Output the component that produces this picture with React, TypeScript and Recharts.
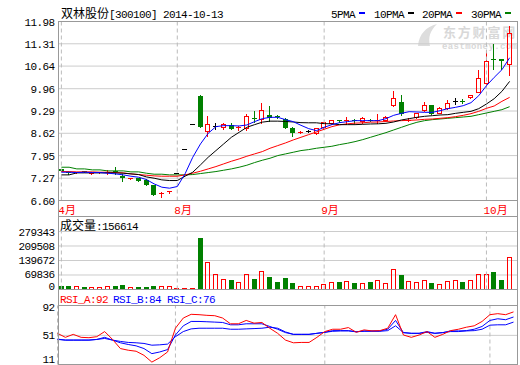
import React from 'react';
import { ComposedChart, Bar, Line, XAxis, YAxis, CartesianGrid, ReferenceLine } from 'recharts';

// 双林股份 [300100] daily bars
const opens = [7.54, 7.44, 7.42, 7.46, 7.40, 7.42, 7.43, 7.48, 7.35, 7.24, 7.27, 7.23, 7.08, 6.81, 6.83, 7.40, 8.14, 8.88, 9.74, 8.68, 8.83, 8.80, 8.88, 8.76, 8.76, 9.06, 9.03, 9.16, 9.12, 9.05, 8.77, 8.63, 8.67, 8.61, 8.79, 8.91, 8.99, 8.99, 9.01, 8.96, 9.01, 9.00, 9.01, 9.47, 9.56, 9.00, 9.09, 9.32, 9.46, 9.22, 9.36, 9.58, 9.59, 9.69, 9.86, 10.11, 10.84, 10.86, 10.68];
const closes = [7.48, 7.42, 7.43, 7.44, 7.42, 7.43, 7.44, 7.47, 7.27, 7.25, 7.20, 7.08, 6.78, 6.82, 6.86, 7.40, 8.14, 8.88, 8.80, 8.88, 8.83, 8.88, 8.76, 8.78, 9.13, 9.05, 9.31, 9.09, 9.10, 8.78, 8.62, 8.64, 8.67, 8.75, 8.93, 8.99, 8.98, 9.00, 9.00, 9.05, 9.00, 9.01, 9.10, 9.68, 9.20, 9.01, 9.20, 9.46, 9.20, 9.36, 9.51, 9.58, 9.58, 9.76, 10.26, 10.79, 10.82, 10.78, 11.63];
const highs = [7.56, 7.47, 7.46, 7.48, 7.44, 7.46, 7.53, 7.60, 7.40, 7.28, 7.28, 7.26, 7.08, 6.87, 6.90, 7.40, 8.14, 8.88, 9.77, 9.13, 8.94, 8.94, 8.94, 8.85, 9.21, 9.28, 9.54, 9.44, 9.16, 9.07, 8.82, 8.68, 8.72, 8.78, 8.95, 9.02, 9.02, 9.12, 9.06, 9.10, 9.05, 9.20, 9.15, 9.88, 9.76, 9.08, 9.24, 9.56, 9.48, 9.40, 9.63, 9.69, 9.66, 9.78, 10.53, 11.11, 11.31, 10.86, 11.83];
const lows = [7.46, 7.38, 7.40, 7.42, 7.38, 7.39, 7.37, 7.37, 7.15, 7.22, 7.15, 7.03, 6.75, 6.67, 6.80, 7.40, 8.14, 8.88, 8.78, 8.50, 8.73, 8.73, 8.72, 8.68, 8.70, 8.94, 8.91, 8.96, 9.06, 8.75, 8.50, 8.60, 8.62, 8.58, 8.75, 8.86, 8.93, 8.88, 8.91, 8.91, 8.95, 8.90, 8.98, 9.40, 9.15, 8.96, 9.06, 9.25, 9.16, 9.20, 9.33, 9.46, 9.50, 9.66, 9.83, 10.06, 10.53, 10.51, 10.34];
const volumes = [14600, 14600, 14600, 9750, 9750, 13000, 14600, 14600, 19500, 9750, 9750, 13000, 14600, 14600, 14600, 4900, 4900, 4900, 250000, 133000, 73000, 48800, 43900, 35700, 76400, 48800, 87700, 60100, 35700, 55200, 30900, 17900, 17900, 17900, 24400, 34100, 34100, 39000, 30900, 29200, 34100, 43900, 29200, 97500, 68200, 39000, 34100, 43900, 30900, 24400, 39000, 43900, 35700, 43900, 73100, 73100, 84500, 45500, 156614];

const ma5 = [7.45, 7.45, 7.44, 7.45, 7.44, 7.44, 7.42, 7.40, 7.37, 7.33, 7.30, 7.23, 7.10, 7.00, 6.97, 7.02, 7.40, 7.90, 8.30, 8.62, 8.82, 8.85, 8.85, 8.84, 8.87, 8.97, 9.06, 9.10, 9.10, 9.03, 8.97, 8.86, 8.76, 8.70, 8.80, 8.88, 8.94, 8.97, 9.00, 9.00, 9.00, 9.00, 9.06, 9.16, 9.22, 9.27, 9.26, 9.25, 9.25, 9.30, 9.36, 9.40, 9.45, 9.54, 9.75, 10.05, 10.30, 10.53, 10.89];
const ma10 = [7.37, 7.37, 7.43, 7.43, 7.43, 7.43, 7.43, 7.43, 7.42, 7.40, 7.38, 7.31, 7.27, 7.22, 7.20, 7.20, 7.33, 7.45, 7.67, 7.90, 8.10, 8.30, 8.50, 8.65, 8.80, 8.88, 8.955, 8.985, 8.985, 8.975, 8.96, 8.94, 8.935, 8.935, 8.91, 8.905, 8.88, 8.88, 8.88, 8.89, 8.90, 8.905, 8.92, 8.96, 9.02, 9.06, 9.10, 9.13, 9.15, 9.17, 9.18, 9.22, 9.25, 9.28, 9.36, 9.50, 9.66, 9.88, 10.18];
const ma20 = [7.47, 7.47, 7.46, 7.46, 7.46, 7.45, 7.45, 7.44, 7.43, 7.40, 7.38, 7.36, 7.34, 7.33, 7.33, 7.33, 7.37, 7.42, 7.48, 7.55, 7.62, 7.70, 7.78, 7.85, 7.93, 8.00, 8.07, 8.17, 8.25, 8.33, 8.42, 8.50, 8.58, 8.66, 8.74, 8.82, 8.875, 8.905, 8.925, 8.935, 8.955, 8.96, 8.975, 8.99, 9.00, 9.01, 9.02, 9.04, 9.05, 9.07, 9.09, 9.12, 9.16, 9.21, 9.28, 9.37, 9.44, 9.58, 9.70];
const ma30 = [7.60, 7.60, 7.55, 7.55, 7.52, 7.52, 7.49, 7.49, 7.49, 7.46, 7.46, 7.42, 7.39, 7.39, 7.37, 7.37, 7.37, 7.38, 7.41, 7.44, 7.47, 7.51, 7.55, 7.60, 7.66, 7.74, 7.81, 7.87, 7.95, 8.00, 8.05, 8.10, 8.13, 8.17, 8.20, 8.23, 8.28, 8.32, 8.37, 8.43, 8.50, 8.57, 8.64, 8.72, 8.80, 8.88, 8.95, 9.00, 9.03, 9.05, 9.07, 9.09, 9.11, 9.13, 9.18, 9.23, 9.28, 9.33, 9.42];

const rsiA = [53.8, 48.3, 52.4, 48.3, 47.8, 49.2, 56.2, 45.4, 32.9, 30.6, 29.2, 23.6, 14.3, 20.3, 28.2, 60.8, 74.8, 79.9, 79.4, 78.5, 78.0, 74.8, 66.9, 66.9, 71.5, 67.8, 68.7, 60.8, 53.8, 44.5, 40.8, 41.3, 41.3, 48.3, 56.2, 59.4, 59.4, 61.7, 55.2, 58.5, 57.1, 57.5, 60.8, 79.4, 51.5, 48.3, 51.5, 56.2, 48.3, 52.4, 57.5, 59.4, 62.2, 64.1, 70.1, 79.4, 80.8, 79.4, 83.2];
const rsiB = [45.9, 44.5, 44.5, 44.5, 44.5, 45.4, 48.3, 44.5, 40.8, 38.5, 36.6, 32.9, 25.9, 28.2, 31.5, 51.5, 64.1, 70.1, 70.1, 69.7, 69.2, 68.7, 65.5, 65.5, 66.9, 66.9, 66.9, 63.2, 59.4, 54.8, 52.4, 52.4, 52.4, 53.8, 55.2, 57.5, 57.5, 57.5, 55.7, 57.1, 57.1, 57.1, 59.4, 71.5, 54.8, 53.8, 53.8, 56.2, 53.8, 54.8, 57.1, 57.1, 57.5, 59.4, 63.2, 71.5, 73.8, 72.5, 76.2];
const rsiC = [45.4, 44.5, 44.5, 44.5, 44.5, 45.4, 46.8, 44.5, 42.7, 41.3, 40.8, 39.9, 37.5, 38.0, 39.0, 49.2, 56.2, 59.9, 60.8, 60.8, 60.8, 60.8, 59.4, 59.4, 59.9, 60.3, 60.8, 62.2, 60.8, 55.7, 52.4, 52.4, 52.4, 53.8, 55.2, 56.6, 57.1, 57.1, 56.2, 56.6, 56.6, 56.6, 57.5, 64.1, 54.8, 53.8, 53.8, 55.2, 53.8, 54.8, 56.2, 56.2, 57.1, 57.5, 59.4, 65.0, 65.5, 65.5, 69.2];
const rsiLabels = ['RSI_A:92', 'RSI_B:84', 'RSI_C:76'];

const monthIdx = [0, 15, 34, 55];
const monthNames = ['4月', '8月', '9月', '10月'];
const priceTicks = [6.6, 7.27, 7.95, 8.62, 9.29, 9.96, 10.64, 11.31, 11.98];
const volTicks = [0, 69836, 139672, 209508, 279343];
const rsiTicks = [11, 51, 92];
const maNames = ['5PMA', '10PMA', '20PMA', '30PMA'];

const RED = '#ff0000';
const GREEN = '#008000';
const BLUE = '#0000ff';
const BLACK = '#000000';
const maColors = [BLUE, BLACK, RED, GREEN];
const GRID = '#cccccc';
const FRAME = '#999999';
const DASH = '#bbbbbb';
const MONO = "'Liberation Mono', 'DejaVu Sans Mono', monospace";
const CJK = "'Noto Sans CJK SC', sans-serif";

const rows = opens.map((open, i) => ({
  i,
  open,
  close: closes[i],
  high: highs[i],
  low: lows[i],
  range: [lows[i], highs[i]],
  vol: volumes[i],
  ma5: ma5[i],
  ma10: ma10[i],
  ma20: ma20[i],
  ma30: ma30[i],
  rsiA: rsiA[i],
  rsiB: rsiB[i],
  rsiC: rsiC[i],
}));

const xPad = { left: -1, right: 4 };

function Candle(props: any) {
  const { x, y, width, height, payload } = props;
  if (x == null || y == null) return null;
  const { open, close, high, low } = payload;
  const top = Math.min(y, y + height);
  const h = Math.abs(height);
  const yOf = (v: number) => (high === low ? top : top + (h * (high - v)) / (high - low));
  const cx = Math.floor(x + width / 2) + 0.5;
  const left = cx - 2.5;
  const color = close > open ? RED : close < open ? GREEN : BLACK;
  const yHigh = yOf(high);
  const yLow = yOf(low);
  const bTop = yOf(Math.max(open, close));
  const bBot = yOf(Math.min(open, close));

  if (bBot - bTop < 1.5) {
    const yy = Math.floor(bTop) + 0.5;
    return (
      <g shapeRendering="crispEdges">
        {yLow - yHigh > 0.5 && <line x1={cx} x2={cx} y1={yHigh} y2={yLow} stroke={color} />}
        <line x1={left} x2={left + 5} y1={yy} y2={yy} stroke={color} />
      </g>
    );
  }
  if (color === RED) {
    return (
      <g shapeRendering="crispEdges">
        <line x1={cx} x2={cx} y1={yHigh} y2={bTop} stroke={RED} />
        <line x1={cx} x2={cx} y1={bBot} y2={yLow} stroke={RED} />
        <rect x={left + 0.5} y={bTop} width={4} height={bBot - bTop} fill="none" stroke={RED} />
      </g>
    );
  }
  return (
    <g shapeRendering="crispEdges">
      <line x1={cx} x2={cx} y1={yHigh} y2={yLow} stroke={GREEN} />
      <rect x={left} y={bTop} width={5} height={bBot - bTop} fill={GREEN} />
    </g>
  );
}

function VolBar(props: any) {
  const { x, y, width, height, payload } = props;
  if (x == null || y == null) return null;
  const cx = Math.floor(x + width / 2) + 0.5;
  const left = cx - 2.5;
  const top = Math.min(y, y + height);
  const h = Math.abs(height);
  if (payload.close >= payload.open) {
    return (
      <rect x={left + 0.5} y={top + 0.5} width={4} height={Math.max(h - 1, 0)}
        fill="none" stroke={RED} shapeRendering="crispEdges" />
    );
  }
  return <rect x={left} y={top} width={5} height={h} fill={GREEN} shapeRendering="crispEdges" />;
}

function MonthTick(props: any) {
  const { x, y, payload } = props;
  const k = monthIdx.indexOf(payload.value);
  return (
    <text x={x - 3} y={y + 13} fill={RED} fontSize={11} fontFamily={`${MONO}, ${CJK}`}>
      {monthNames[k]}
    </text>
  );
}

const yTick = (fmt: (v: number) => string, shift: Record<number, number>) => (props: any) => {
  const v = props.payload.value;
  return (
    <text x={props.x} y={props.y + 4 + (shift[v] || 0)} textAnchor="end" fill="#000"
      fontSize={11} fontFamily={MONO} letterSpacing={-0.6}>
      {fmt(v)}
    </text>
  );
};

const monthLines = monthIdx.map((m) => (
  <ReferenceLine key={m} x={m} stroke={DASH} strokeDasharray="4 3" />
));

export default function App() {
  const legendX = [331, 374, 422, 471];
  return (
    <div style={{ position: 'absolute', left: 0, top: 0, width: 520, height: 365, background: '#fff', overflow: 'hidden' }}>
      {/* watermark */}
      <svg width={520} height={365} style={{ position: 'absolute', left: 0, top: 0 }}>
        <path d="M418 46 C419 34 426 27 437 24 C430 31 428 37 430 46 Z" fill="#dddddd" />
        <text x={443} y={37} fontFamily={CJK} fontSize={13} fontWeight="bold" fill="#d8d8d8" letterSpacing={1.8}>东方财富网</text>
        <text x={442} y={48.5} fontFamily={MONO} fontSize={9} fontWeight="bold" fill="#d8d8d8" letterSpacing={0.4}>eastmoney.com</text>
      </svg>

      {/* price panel */}
      <div style={{ position: 'absolute', left: 0, top: 0 }}>
        <ComposedChart width={520} height={217} data={rows} margin={{ top: 21.5, right: 2.5, bottom: 0, left: 0 }}>
          <CartesianGrid vertical={false} stroke={GRID} />
          <XAxis dataKey="i" type="category" padding={xPad} ticks={monthIdx} interval={0} height={16.5}
            axisLine={false} tickLine={false} tickSize={0} tickMargin={0} tick={<MonthTick />} />
          <YAxis domain={[6.6, 11.98]} ticks={priceTicks} width={58.5} allowDataOverflow interval={0}
            axisLine={false} tickLine={false} tickSize={0} tickMargin={4}
            tick={yTick((v) => v.toFixed(2), {})} />
          {monthLines}
          <Bar dataKey="range" barSize={5} shape={<Candle />} isAnimationActive={false} />
          <Line dataKey="ma30" stroke={GREEN} strokeWidth={1} dot={false} isAnimationActive={false} />
          <Line dataKey="ma20" stroke={RED} strokeWidth={1} dot={false} isAnimationActive={false} />
          <Line dataKey="ma10" stroke={BLACK} strokeWidth={1} dot={false} isAnimationActive={false} />
          <Line dataKey="ma5" stroke={BLUE} strokeWidth={1} dot={false} isAnimationActive={false} />
        </ComposedChart>
      </div>

      {/* volume panel */}
      <div style={{ position: 'absolute', left: 0, top: 217 }}>
        <ComposedChart width={520} height={84.5} data={rows} margin={{ top: 14.5, right: 2.5, bottom: 12, left: 0 }}>
          <CartesianGrid vertical={false} stroke={GRID} />
          <XAxis dataKey="i" type="category" padding={xPad} hide />
          <YAxis domain={[0, 279343]} ticks={volTicks} width={58.5} allowDataOverflow interval={0}
            axisLine={false} tickLine={false} tickSize={0} tickMargin={4}
            tick={yTick((v) => String(v), { 0: -3.5, 69836: -1 })} />
          {monthLines}
          <Bar dataKey="vol" barSize={5} shape={<VolBar />} isAnimationActive={false} />
        </ComposedChart>
      </div>

      {/* RSI panel */}
      <div style={{ position: 'absolute', left: 0, top: 289 }}>
        <ComposedChart width={520} height={75.5} data={rows} margin={{ top: 16.5, right: 2.5, bottom: 0, left: 0 }}>
          <CartesianGrid vertical={false} stroke={GRID} />
          <XAxis dataKey="i" type="category" padding={xPad} hide />
          <YAxis domain={[11, 92]} ticks={rsiTicks} width={58.5} allowDataOverflow interval={0}
            axisLine={false} tickLine={false} tickSize={0} tickMargin={4}
            tick={yTick((v) => String(v), { 11: -6, 92: 1 })} />
          {monthLines}
          <Line dataKey="rsiC" stroke={BLUE} strokeWidth={1} dot={false} isAnimationActive={false} />
          <Line dataKey="rsiB" stroke={BLUE} strokeWidth={1} dot={false} isAnimationActive={false} />
          <Line dataKey="rsiA" stroke={RED} strokeWidth={1} dot={false} isAnimationActive={false} />
        </ComposedChart>
      </div>

      {/* frame and captions */}
      <svg width={520} height={365} style={{ position: 'absolute', left: 0, top: 0, pointerEvents: 'none' }}>
        <g stroke={FRAME} shapeRendering="crispEdges">
          <line x1={58.5} x2={58.5} y1={21} y2={365} />
          <line x1={517.5} x2={517.5} y1={21} y2={365} />
          <line x1={58} x2={518} y1={21.5} y2={21.5} />
          <line x1={58} x2={518} y1={200.5} y2={200.5} />
          <line x1={58} x2={518} y1={216.5} y2={216.5} />
          <line x1={58} x2={518} y1={289.5} y2={289.5} />
          <line x1={58} x2={518} y1={305.5} y2={305.5} />
          <line x1={58} x2={518} y1={364.5} y2={364.5} />
        </g>

        <text x={61} y={18} fill="#000">
          <tspan fontFamily={CJK} fontSize={12}>双林股份</tspan>
          <tspan fontFamily={MONO} fontSize={11} letterSpacing={-0.6}>[300100] 2014-10-13</tspan>
        </text>

        {maNames.map((name, k) => (
          <g key={name}>
            <text x={legendX[k]} y={18} fontFamily={MONO} fontSize={11} letterSpacing={-0.6} fill="#000">{name}</text>
            <rect x={legendX[k] + name.length * 6 + 4} y={12} width={6} height={2} fill={maColors[k]} shapeRendering="crispEdges" />
          </g>
        ))}

        <text x={60} y={230} fill="#000">
          <tspan fontFamily={CJK} fontSize={12}>成交量</tspan>
          <tspan fontFamily={MONO} fontSize={11} letterSpacing={-0.6}>{`:${volumes[volumes.length - 1]}`}</tspan>
        </text>

        {rsiLabels.map((t, k) => (
          <text key={t} x={[60, 113, 167][k]} y={303} fontFamily={MONO} fontSize={11} letterSpacing={-0.6}
            fill={k === 0 ? RED : BLUE}>{t}</text>
        ))}
      </svg>
    </div>
  );
}
